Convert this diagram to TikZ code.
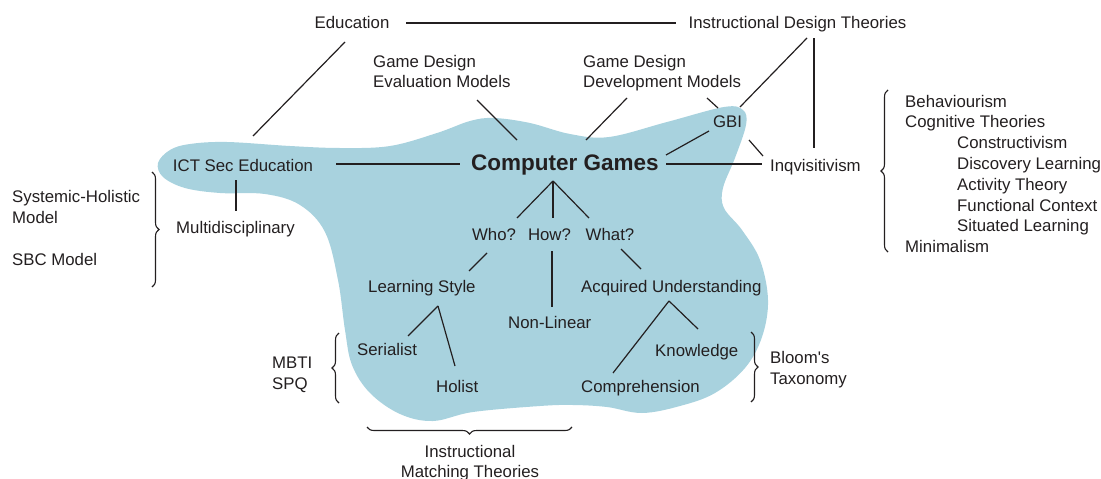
\documentclass[tikz,border=0pt]{standalone}
\usepackage{fontspec}
\setmainfont{Liberation Sans}
\usetikzlibrary{calc,decorations.pathreplacing}
\definecolor{blobfill}{RGB}{168,210,222}
\definecolor{ink}{RGB}{35,31,32}
\begin{document}
\begin{tikzpicture}[x=1pt,y=-1pt,
  lbl/.style={inner sep=0pt, anchor=base, text=ink, font=\fontsize{16.8}{20}\selectfont},
  lblw/.style={lbl, anchor=base west},
  title/.style={lbl, font=\fontsize{22.5}{26}\selectfont\bfseries},
  link/.style={draw=ink, line width=1.2pt},
  brc/.style={draw=ink, line width=1.1pt, decorate, decoration={brace, amplitude=7pt}}]
\useasboundingbox (0,0) rectangle (1101,479);

% the light blue region holding the computer-games map
\fill[blobfill] plot[smooth cycle, tension=0.6] coordinates {
  (158,163) (170,150) (190,144) (227,142) (290,146) (340,148) (390,146)
  (437,133) (470,121) (494,118) (530,123) (570,134) (609,137) (667,122)
  (724,107) (743,110) (746,125) (735,158) (723,188) (724,208) (742,230)
  (760,260) (768,300) (762,337) (745,368) (715,393) (680,406) (642,413)
  (607,407) (573,405) (540,406) (473,412) (433,421) (400,414) (370,393)
  (352,365) (345,330) (338,280) (325,232) (300,205) (265,194) (220,193)
  (185,188) (163,177)};

% labels
\node[lbl]  (edu)  at (352,28)   {Education};
\node[lbl]  (idt)  at (797.5,28) {Instructional Design Theories};
\node[lblw] (gde1) at (373,67)   {Game Design};
\node[lblw] (gde2) at (373,87)   {Evaluation Models};
\node[lblw] (gdd1) at (583,67)   {Game Design};
\node[lblw] (gdd2) at (583,87)   {Development Models};
\node[lbl]  (gbi)  at (727.5,127) {GBI};
\node[title] (cg)  at (565,170)  {Computer Games};
\node[lbl]  (ict)  at (243,171)  {ICT Sec Education};
\node[lblw] (inq)  at (770,171)  {Inqvisitivism};
\node[lblw] (multi) at (176,233) {Multidisciplinary};
\node[lblw] (sys1) at (12,202)   {Systemic-Holistic};
\node[lblw] (sys2) at (12,223)   {Model};
\node[lblw] (sbc)  at (12,265)   {SBC Model};

\node[lblw] (beh)  at (905,107)   {Behaviourism};
\node[lblw] (cog)  at (905,127.8) {Cognitive Theories};
\node[lblw] (con)  at (957,148.6) {Constructivism};
\node[lblw] (dis)  at (957,169.4) {Discovery Learning};
\node[lblw] (act)  at (957,190.2) {Activity Theory};
\node[lblw] (fun)  at (957,211)   {Functional Context};
\node[lblw] (sit)  at (957,231.8) {Situated Learning};
\node[lblw] (mini) at (905,252.6) {Minimalism};

\node[lbl]  (who)  at (494,240)   {Who?};
\node[lbl]  (how)  at (549.5,240) {How?};
\node[lbl]  (what) at (610,240)   {What?};
\node[lblw] (ls)   at (368,292)   {Learning Style};
\node[lblw] (nl)   at (508,328)   {Non-Linear};
\node[lblw] (au)   at (581,292)   {Acquired Understanding};
\node[lblw] (ser)  at (357,355)   {Serialist};
\node[lblw] (hol)  at (436,392)   {Holist};
\node[lblw] (kn)   at (655,356)   {Knowledge};
\node[lblw] (comp) at (581,392)   {Comprehension};
\node[lblw] (mbti) at (272,368)   {MBTI};
\node[lblw] (spq)  at (272,389)   {SPQ};
\node[lblw] (bloom) at (770,363)  {Bloom\textquotesingle s};
\node[lblw] (tax)  at (770,384)   {Taxonomy};
\node[lbl]  (imt1) at (470,457)   {Instructional};
\node[lbl]  (imt2) at (470,477)   {Matching Theories};

% connectors
\draw[link] ($(edu.base)+(-7,14)$)    -- ($(ict.base)+(10,-35)$);
\draw[link] ($(edu.base)+(54,-5)$)    -- ($(idt.base)+(-121.5,-5)$);
\draw[link] ($(gde2.base west)+(104,13)$) -- ($(cg.base)+(-48,-30)$);
\draw[link] ($(gdd2.base west)+(44,11)$)  -- ($(cg.base)+(21,-30)$);
\draw[link] ($(gdd2.base west)+(124,11)$) -- ($(gbi.base)+(-9.5,-19)$);
\draw[link] ($(idt.base)+(9.5,10)$)   -- ($(gbi.base)+(12.5,-20)$);
\draw[link] ($(idt.base)+(16.5,10)$)  -- ($(inq.base west)+(44,-23)$);
\draw[link] ($(gbi.base)+(-18.5,4)$)  -- ($(cg.base)+(101,-15)$);
\draw[link] ($(gbi.base)+(21.5,13)$)  -- ($(inq.base west)+(-7,-15)$);
\draw[link] ($(cg.base)+(101,-6)$)    -- ($(inq.base west)+(-8,-7)$);
\draw[link] ($(ict.base)+(93,-7)$)    -- ($(cg.base)+(-105,-6)$);
\draw[link] ($(ict.base)+(-7,9)$)     -- ($(multi.base west)+(60,-22)$);

\draw[link] ($(cg.base)+(-12,11)$) -- ($(who.base)+(23,-22)$);
\draw[link] ($(cg.base)+(-12,11)$) -- ($(how.base)+(3.5,-22)$);
\draw[link] ($(cg.base)+(-12,11)$) -- ($(what.base)+(-21,-22)$);
\draw[link] ($(who.base)+(-7,13)$)  -- ($(ls.base west)+(101,-21)$);
\draw[link] ($(how.base)+(2.5,11)$) -- ($(nl.base west)+(44,-21)$);
\draw[link] ($(what.base)+(11,9)$)  -- ($(au.base west)+(60,-23)$);
\draw[link] ($(ls.base west)+(70,14)$) -- ($(ser.base west)+(51,-19)$);
\draw[link] ($(ls.base west)+(70,14)$) -- ($(hol.base west)+(19,-26)$);
\draw[link] ($(au.base west)+(88,9)$)  -- ($(kn.base west)+(43,-27)$);
\draw[link] ($(au.base west)+(88,9)$)  -- ($(comp.base west)+(32,-19)$);

% braces grouping the side lists
\draw[brc] (152,172) -- (152,287);
\draw[brc] (888,252) -- (888,90);
\draw[brc] (339,403) -- (339,333);
\draw[brc] (751,332) -- (751,402);
\draw[brc] (572,427) -- (367,427);
\end{tikzpicture}
\end{document}
